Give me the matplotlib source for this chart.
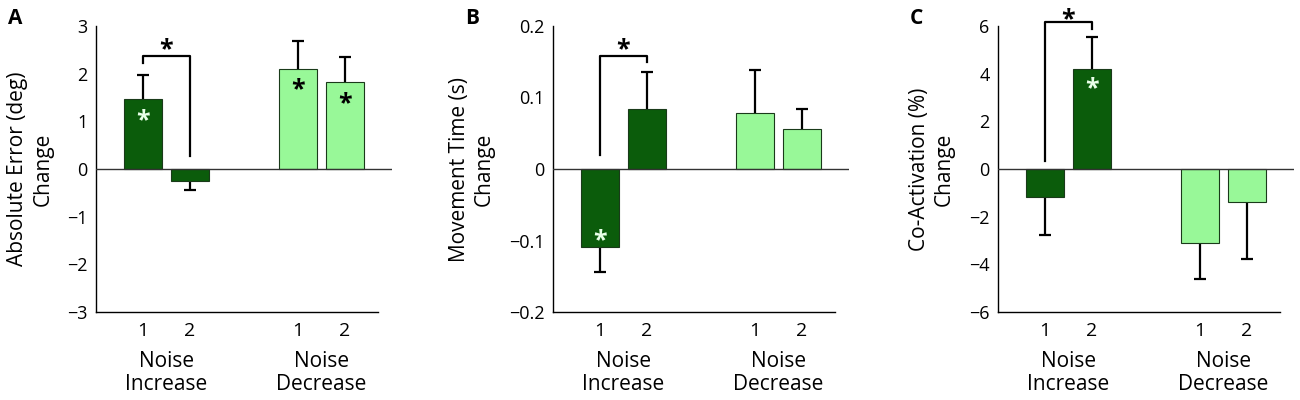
#!/usr/bin/env python3
"""Noise increase / decrease: change in error, movement time and co-activation."""
import matplotlib

matplotlib.use("Agg")
import matplotlib.pyplot as plt

plt.rcParams.update(
    {
        "font.family": ["Open Sans", "DejaVu Sans"],
        "axes.linewidth": 1.0,
        "axes.unicode_minus": True,
    }
)

DARK = "#0b5c0b"
LIGHT = "#98f898"

x_pos = [1, 2, 4.3, 5.3]
tick_labels = ["1", "2", "1", "2"]
groups = [("Noise", "Increase"), ("Noise", "Decrease")]

err_means = [1.47, -0.25, 2.10, 1.82]
err_sem = [0.50, 0.20, 0.59, 0.52]
mt_means = [-0.109, 0.084, 0.079, 0.056]
mt_sem = [0.035, 0.051, 0.059, 0.028]
coact_means = [-1.16, 4.19, -3.09, -1.40]
coact_sem = [1.61, 1.33, 1.54, 2.38]

# star inside bar: (bar index, y, colour)
err_stars = [(0, 1.15, "#e8ffe8"), (2, 1.80, "black"), (3, 1.50, "black")]
mt_stars = [(0, -0.091, "#e8ffe8")]
coact_stars = [(1, 3.63, "#e8ffe8")]

# bracket: left leg bottom, top, right leg bottom, star y
err_bracket = (2.22, 2.37, 0.28, 2.64)
mt_bracket = (0.020, 0.158, 0.149, 0.176)
coact_bracket = (0.35, 6.17, 5.86, 6.54)

panels = [
    ("A", "Absolute Error (deg)\nChange", err_means, err_sem, (-3, 3), [-3, -2, -1, 0, 1, 2, 3],
     ["\u22123", "\u22122", "\u22121", "0", "1", "2", "3"], err_stars, err_bracket),
    ("B", "Movement Time (s)\nChange", mt_means, mt_sem, (-0.2, 0.2), [-0.2, -0.1, 0, 0.1, 0.2],
     ["\u22120.2", "\u22120.1", "0", "0.1", "0.2"], mt_stars, mt_bracket),
    ("C", "Co-Activation (%)\nChange", coact_means, coact_sem, (-6, 6), [-6, -4, -2, 0, 2, 4, 6],
     ["\u22126", "\u22124", "\u22122", "0", "2", "4", "6"], coact_stars, coact_bracket),
]

lefts = [96, 553, 998]
fig = plt.figure(figsize=(13, 4), dpi=100)


def star(ax, x, y, color="black"):
    # asterisk glyph sits high in its box, so nudge it down
    ax.annotate("*", (x, y), xytext=(0, -4.5), textcoords="offset points", color=color,
                fontsize=18, fontweight="bold", ha="center", va="center",
                annotation_clip=False, zorder=4)


for (letter, ylabel, means, sem, ylim, yticks, yticklabels, stars, bracket), left in zip(panels, lefts):
    ax = fig.add_axes([left / 1300, 88 / 400, 296 / 1300, 286 / 400])
    colors = [DARK, DARK, LIGHT, LIGHT]
    ax.bar(x_pos, means, width=0.8, color=colors, edgecolor="#1a3a1a", linewidth=0.8, zorder=2)
    # one-sided error bars, cap only at the far end
    for x, m, s in zip(x_pos, means, sem):
        end = m + s if m > 0 else m - s
        ax.vlines(x, m, end, color="black", linewidth=1.6, zorder=1)
        ax.hlines(end, x - 0.13, x + 0.13, color="black", linewidth=1.6, zorder=1)
    ax.axhline(0, color="#333333", linewidth=1.0, zorder=3)
    ax.set_xlim(0, 6.3)
    ax.set_ylim(*ylim)
    ax.set_yticks(yticks)
    ax.set_yticklabels(yticklabels)
    ax.set_xticks(x_pos)
    ax.set_xticklabels(tick_labels)
    ax.tick_params(length=0, labelsize=13, pad=6)
    ax.tick_params(axis="x", labelsize=14, pad=7)
    for side in ("top", "right"):
        ax.spines[side].set_visible(False)
    ax.spines["bottom"].set_bounds(0, 6.0)
    ax.set_ylabel(ylabel, fontsize=15, linespacing=1.25, labelpad=10)
    fig.text((left - 88) / 1300, 1 - 18 / 400, letter, fontsize=15, fontweight="bold",
             ha="left", va="center")
    for i, ys, c in stars:
        star(ax, x_pos[i], ys, c)
    l_bot, top, r_bot, star_y = bracket
    ax.plot([x_pos[0], x_pos[0], x_pos[1], x_pos[1]], [l_bot, top, top, r_bot],
            color="black", linewidth=1.6, clip_on=False, zorder=1)
    star(ax, (x_pos[0] + x_pos[1]) / 2, star_y)
    for gx, (g1, g2) in zip([(x_pos[0] + x_pos[1]) / 2, (x_pos[2] + x_pos[3]) / 2], groups):
        for line, dy in ((g1, -35.5), (g2, -52)):
            ax.annotate(line, (gx, 0), xycoords=("data", "axes fraction"), xytext=(0, dy),
                        textcoords="offset points", fontsize=15, ha="center", va="center")

fig.savefig("out.png", dpi=100)
